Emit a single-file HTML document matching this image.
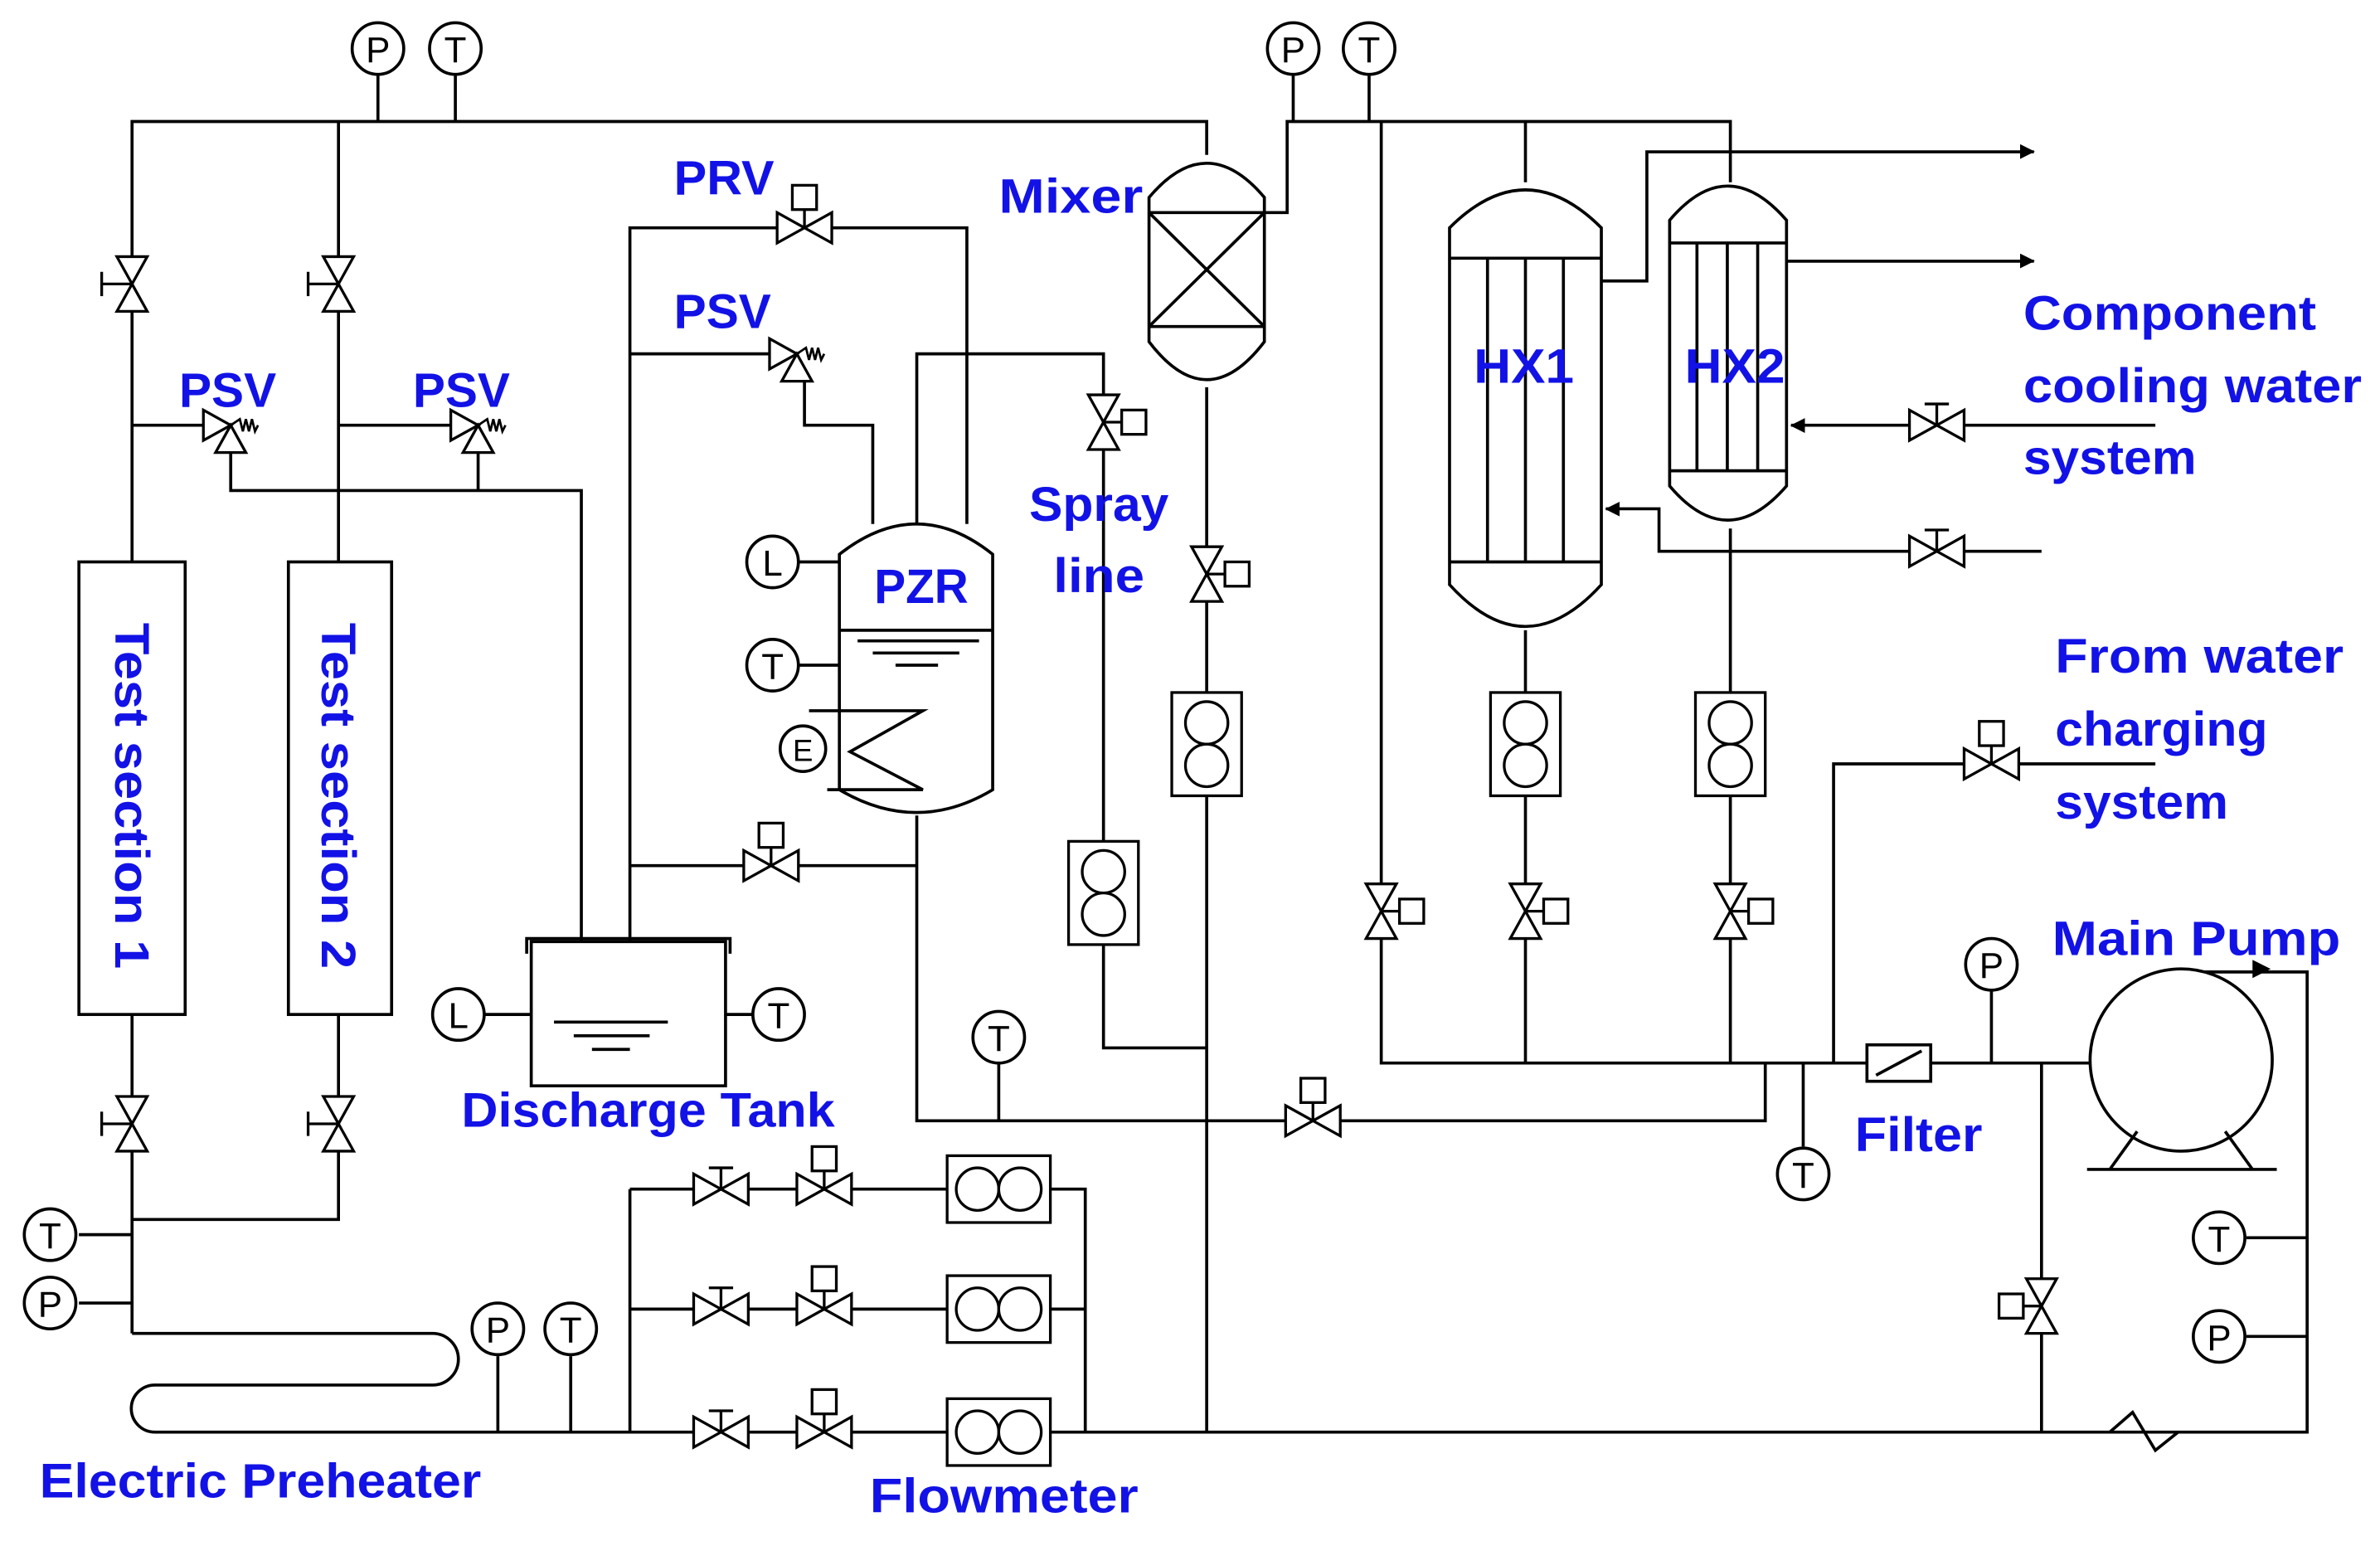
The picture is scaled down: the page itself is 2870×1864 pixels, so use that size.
<!DOCTYPE html>
<html><head><meta charset="utf-8"><style>
html,body{margin:0;padding:0;background:#fff;}
svg{display:block;}
text{font-family:"Liberation Sans",sans-serif;}
.lb{fill:#1212e6;font-weight:bold;font-size:32px;}
.ins{font-size:24px;fill:#000;text-anchor:middle;}
</style></head><body>
<svg width="2870" height="1864" viewBox="0 0 1568 1018" preserveAspectRatio="none" xmlns="http://www.w3.org/2000/svg">
<defs>
<g id="vh"><polygon points="-18,-10 0,0 -18,10" fill="#fff" stroke="#000" stroke-width="1.8"/><polygon points="18,-10 0,0 18,10" fill="#fff" stroke="#000" stroke-width="1.8"/></g>
<g id="vv"><polygon points="-10,-18 0,0 10,-18" fill="#fff" stroke="#000" stroke-width="1.8"/><polygon points="-10,18 0,0 10,18" fill="#fff" stroke="#000" stroke-width="1.8"/></g>
<g id="gh"><use href="#vh"/><line x1="0" y1="0" x2="0" y2="-14" stroke="#000" stroke-width="1.8"/><line x1="-8" y1="-14" x2="8" y2="-14" stroke="#000" stroke-width="1.8"/></g>
<g id="ch"><use href="#vh"/><line x1="0" y1="0" x2="0" y2="-12" stroke="#000" stroke-width="1.8"/><rect x="-8" y="-28" width="16" height="16" fill="#fff" stroke="#000" stroke-width="1.8"/></g>
<g id="gv"><use href="#vv"/><line x1="0" y1="0" x2="-20" y2="0" stroke="#000" stroke-width="1.8"/><line x1="-20" y1="-8" x2="-20" y2="8" stroke="#000" stroke-width="1.8"/></g>
<g id="cv"><use href="#vv"/><line x1="0" y1="0" x2="12" y2="0" stroke="#000" stroke-width="1.8"/><rect x="12" y="-8" width="16" height="16" fill="#fff" stroke="#000" stroke-width="1.8"/></g>
<g id="cvl"><use href="#vv"/><line x1="0" y1="0" x2="-12" y2="0" stroke="#000" stroke-width="1.8"/><rect x="-28" y="-8" width="16" height="16" fill="#fff" stroke="#000" stroke-width="1.8"/></g>
<g id="psv"><polygon points="-18,-10 0,0 -18,10" fill="#fff" stroke="#000" stroke-width="1.8"/><polygon points="-10,18 0,0 10,18" fill="#fff" stroke="#000" stroke-width="1.8"/><path d="M0,0 L6,-4 L8,4 L10,-4 L12,4 L14,-4 L16,4 L18,0" fill="none" stroke="#000" stroke-width="1.5"/></g>
<g id="fmv"><rect x="-23" y="-34" width="46" height="68" fill="#fff" stroke="#000" stroke-width="1.8"/><circle cx="0" cy="-14" r="14" fill="#fff" stroke="#000" stroke-width="1.8"/><circle cx="0" cy="14" r="14" fill="#fff" stroke="#000" stroke-width="1.8"/></g>
<g id="fmh"><rect x="-34" y="-22" width="68" height="44" fill="#fff" stroke="#000" stroke-width="1.8"/><circle cx="-14" cy="0" r="14" fill="#fff" stroke="#000" stroke-width="1.8"/><circle cx="14" cy="0" r="14" fill="#fff" stroke="#000" stroke-width="1.8"/></g>
<marker id="ar" markerWidth="10" markerHeight="10" refX="9" refY="5" orient="auto" markerUnits="userSpaceOnUse"><path d="M0,0 L10,5 L0,10 z" fill="#000" transform="scale(1.6) translate(-4,-2)"/></marker>
</defs>
<g fill="none" stroke="#000" stroke-width="2">
<path d="M87,370 V80 H795 V102"/>
<path d="M223,370 V80"/>
<path d="M249,50 V80 M300,50 V80"/>
<path d="M87,280 H135 M223,280 H298"/>
<path d="M152,298 V323 H383 V620 M315,298 V323"/>
<path d="M87,668 V878 M223,668 V803 H87 M52,813 H87 M52,858 H87"/>
<path d="M87,878 H285 A17,17 0 0 1 285,912 H102 A15.5,15.5 0 0 0 102,943 H1520 V640 H1437"/>
<path d="M328,893 V943 M376,893 V943"/>
<path d="M415,783 V943 M415,783 H715 V943 M415,862 H715"/>
<path d="M415,620 V150 H637 V345 M415,233 H508 M530,251 V280 H575 V345"/>
<path d="M604,345 V233 H727 V555 M727,622 V690 H795"/>
<path d="M415,570 H604 M604,537 V738 H1163 V700"/>
<path d="M658,700 V738 M319,668 H350 M478,668 H496"/>
<path d="M795,255 V943"/>
<path d="M833,140 H848 V80 H1140 V120 M852,50 V80 M902,50 V80 M1005,80 V120"/>
<path d="M910,80 V700 H1435" marker-end="url(#ar)"/>
<path d="M1005,415 V700 M1140,348 V700"/>
<path d="M1055,185 H1085 V100 H1340" marker-end="url(#ar)"/>
<path d="M1177,172 H1340" marker-end="url(#ar)"/>
<path d="M1420,280 H1180" marker-end="url(#ar)"/>
<path d="M1345,363 H1093 V335 H1058" marker-end="url(#ar)"/>
<path d="M1188,700 V755 M1208,700 V503 H1420 M1312,652 V700 M1345,700 V943 M1520,815 H1480 M1520,880 H1480"/>
</g>
<g fill="#fff" stroke="#000" stroke-width="2">
<rect x="52" y="370" width="70" height="298"/>
<rect x="190" y="370" width="68" height="298"/>
<path d="M350,620 H478 V715 H350 Z"/>
<path d="M553,365 Q604,325 654,365 V520 Q604,550 553,520 Z"/>
<path d="M757,130 Q795,85 833,130 V225 Q795,275 757,225 Z"/>
<path d="M955,150 Q1005,100 1055,150 V385 Q1005,440 955,385 Z"/>
<path d="M1100,145 Q1138,100 1177,145 V320 Q1138,365 1100,320 Z"/>
<circle cx="1437" cy="698" r="60"/>
</g>
<g fill="none" stroke="#000" stroke-width="2">
<path d="M347,628 V618 H481 V628"/>
<path d="M365,673 H440 M378,682 H428 M390,691 H415"/>
<path d="M553,415 H654 M565,422 H645 M575,430 H632 M590,438 H618"/>
<path d="M533,468 H608 L560,495 L608,520 H545"/>
<path d="M757,140 H833 M757,215 H833 M757,140 L833,215 M833,140 L757,215"/>
<path d="M955,170 H1055 M955,370 H1055 M980,170 V370 M1005,170 V370 M1030,170 V370"/>
<path d="M1100,160 H1177 M1100,310 H1177 M1118,160 V310 M1138,160 V310 M1158,160 V310"/>
<path d="M1390,770 L1408,745 M1484,770 L1466,745 M1375,770 H1500"/>
<path d="M1390,943 L1405,930 L1420,955 L1435,943"/>
</g>
<path d="M1484,632 L1496,638 L1484,644 z" fill="#000"/>
<use href="#gv" x="87" y="187"/><use href="#gv" x="223" y="187"/>
<use href="#gv" x="87" y="740"/><use href="#gv" x="223" y="740"/>
<use href="#psv" x="152" y="280"/><use href="#psv" x="315" y="280"/><use href="#psv" x="525" y="233"/>
<use href="#ch" x="530" y="150"/><use href="#ch" x="508" y="570"/><use href="#ch" x="865" y="738"/>
<use href="#cv" x="727" y="278"/><use href="#cv" x="795" y="378"/>
<use href="#cv" x="910" y="600"/><use href="#cv" x="1005" y="600"/><use href="#cv" x="1140" y="600"/>
<use href="#cvl" x="1345" y="860"/>
<use href="#gh" x="1276" y="280"/><use href="#gh" x="1276" y="363"/>
<use href="#ch" x="1312" y="503"/>
<use href="#gh" x="475" y="783"/><use href="#gh" x="475" y="862"/><use href="#gh" x="475" y="943"/>
<use href="#ch" x="543" y="783"/><use href="#ch" x="543" y="862"/><use href="#ch" x="543" y="943"/>
<use href="#fmh" x="658" y="783"/><use href="#fmh" x="658" y="862"/><use href="#fmh" x="658" y="943"/>
<use href="#fmv" x="727" y="588"/><use href="#fmv" x="795" y="490"/><use href="#fmv" x="1005" y="490"/><use href="#fmv" x="1140" y="490"/>
<g stroke="#000" stroke-width="2" fill="#fff"><rect x="1230" y="688" width="42" height="24"/><line x1="1236" y1="708" x2="1266" y2="692"/></g>
<g fill="#fff" stroke="#000" stroke-width="2">
<circle cx="249" cy="32" r="17"/><circle cx="300" cy="32" r="17"/><circle cx="852" cy="32" r="17"/><circle cx="902" cy="32" r="17"/>
<circle cx="33" cy="813" r="17"/><circle cx="33" cy="858" r="17"/><circle cx="328" cy="875" r="17"/><circle cx="376" cy="875" r="17"/>
<circle cx="302" cy="668" r="17"/><circle cx="513" cy="668" r="17"/><circle cx="658" cy="683" r="17"/>
<circle cx="509" cy="370" r="17"/><circle cx="509" cy="438" r="17"/><circle cx="529" cy="493" r="15"/>
<circle cx="1188" cy="773" r="17"/><circle cx="1312" cy="635" r="17"/><circle cx="1462" cy="815" r="17"/><circle cx="1462" cy="880" r="17"/>
</g>
<g stroke="#000" stroke-width="2"><line x1="526" y1="370" x2="553" y2="370"/><line x1="526" y1="438" x2="553" y2="438"/></g>
<g class="ins">
<text x="249" y="41">P</text><text x="300" y="41">T</text><text x="852" y="41">P</text><text x="902" y="41">T</text>
<text x="33" y="822">T</text><text x="33" y="867">P</text><text x="328" y="884">P</text><text x="376" y="884">T</text>
<text x="302" y="677">L</text><text x="513" y="677">T</text><text x="658" y="692">T</text>
<text x="509" y="379">L</text><text x="509" y="447">T</text><text x="529" y="501" style="font-size:20px">E</text>
<text x="1188" y="782">T</text><text x="1312" y="644">P</text><text x="1462" y="824">T</text><text x="1462" y="889">P</text>
</g>
<text class="lb" x="444" y="128" textLength="66" lengthAdjust="spacingAndGlyphs">PRV</text>
<text class="lb" x="444" y="216" textLength="64" lengthAdjust="spacingAndGlyphs">PSV</text>
<text class="lb" x="118" y="268" textLength="64" lengthAdjust="spacingAndGlyphs">PSV</text>
<text class="lb" x="272" y="268" textLength="64" lengthAdjust="spacingAndGlyphs">PSV</text>
<text class="lb" x="658" y="140" textLength="95" lengthAdjust="spacingAndGlyphs">Mixer</text>
<text class="lb" x="576" y="397" textLength="62" lengthAdjust="spacingAndGlyphs">PZR</text>
<text class="lb" x="678" y="343" textLength="92" lengthAdjust="spacingAndGlyphs">Spray</text>
<text class="lb" x="694" y="390" textLength="60" lengthAdjust="spacingAndGlyphs">line</text>
<text class="lb" x="971" y="252" textLength="66" lengthAdjust="spacingAndGlyphs">HX1</text>
<text class="lb" x="1110" y="252" textLength="66" lengthAdjust="spacingAndGlyphs">HX2</text>
<text class="lb" x="1333" y="217" textLength="193" lengthAdjust="spacingAndGlyphs">Component</text>
<text class="lb" x="1333" y="265" textLength="223" lengthAdjust="spacingAndGlyphs">cooling water</text>
<text class="lb" x="1333" y="312" textLength="114" lengthAdjust="spacingAndGlyphs">system</text>
<text class="lb" x="1354" y="443" textLength="190" lengthAdjust="spacingAndGlyphs">From water</text>
<text class="lb" x="1354" y="491" textLength="140" lengthAdjust="spacingAndGlyphs">charging</text>
<text class="lb" x="1354" y="539" textLength="114" lengthAdjust="spacingAndGlyphs">system</text>
<text class="lb" x="1352" y="629" textLength="190" lengthAdjust="spacingAndGlyphs">Main Pump</text>
<text class="lb" x="1222" y="758" textLength="84" lengthAdjust="spacingAndGlyphs">Filter</text>
<text class="lb" x="304" y="742" textLength="246" lengthAdjust="spacingAndGlyphs">Discharge Tank</text>
<text class="lb" x="26" y="986" textLength="291" lengthAdjust="spacingAndGlyphs">Electric Preheater</text>
<text class="lb" x="573" y="996" textLength="177" lengthAdjust="spacingAndGlyphs">Flowmeter</text>
<text class="lb" transform="translate(76,410) rotate(90)" textLength="228" lengthAdjust="spacingAndGlyphs">Test section 1</text>
<text class="lb" transform="translate(212,410) rotate(90)" textLength="228" lengthAdjust="spacingAndGlyphs">Test section 2</text>
</svg>
</body></html>
